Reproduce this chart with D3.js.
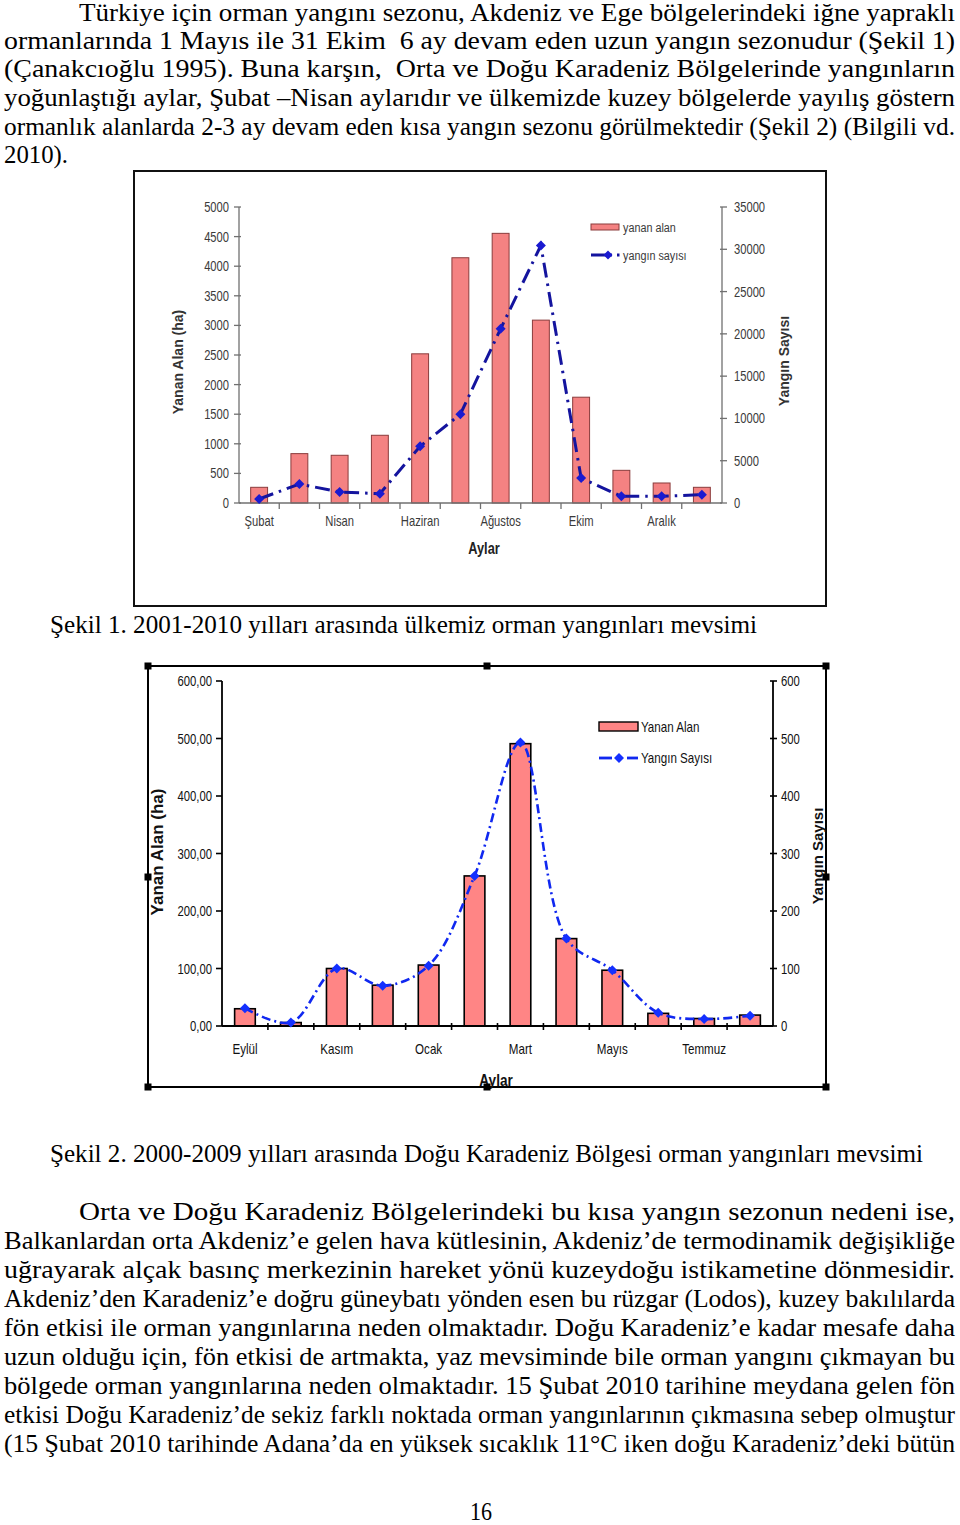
<!DOCTYPE html>
<html><head><meta charset="utf-8">
<script src="https://cdn.jsdelivr.net/npm/d3@7"></script>
<style>
html,body{margin:0;padding:0;background:#fff;}
svg{display:block;}
</style></head>
<body>
<svg id="page" width="960" height="1525"></svg>
<script>
// ---------- DATA ----------
const months1 = ["Şubat","Mart","Nisan","Mayıs","Haziran","Temmuz","Ağustos","Eylül","Ekim","Kasım","Aralık","Ocak"];
const area1 = [265, 834, 806, 1144, 2520, 4143, 4555, 3089, 1787, 552, 338, 265];
const count1 = [470, 2250, 1300, 1100, 6700, 10500, 20600, 30450, 2950, 790, 790, 990];
const leftTicks1 = [0,500,1000,1500,2000,2500,3000,3500,4000,4500,5000];
const rightTicks1 = [0,5000,10000,15000,20000,25000,30000,35000];
const labelMonths1 = ["Şubat","Nisan","Haziran","Ağustos","Ekim","Aralık"];

const months2 = ["Eylül","Ekim","Kasım","Aralık","Ocak","Şubat","Mart","Nisan","Mayıs","Haziran","Temmuz","Ağustos"];
const area2 = [30, 6, 100, 71, 106, 261, 491, 152, 97, 22, 13, 19];
const count2 = [31, 6, 100, 70, 105, 261, 493, 152, 97, 23, 12, 18];
const leftTicks2 = [0,100,200,300,400,500,600];
const leftTickLabels2 = ["0,00","100,00","200,00","300,00","400,00","500,00","600,00"];
const rightTicks2 = [0,100,200,300,400,500,600];
const labelMonths2 = ["Eylül","Kasım","Ocak","Mart","Mayıs","Temmuz"];

const para1 = [
 "Türkiye için orman yangını sezonu, Akdeniz ve Ege bölgelerindeki iğne yapraklı",
 "ormanlarında 1 Mayıs ile 31 Ekim  6 ay devam eden uzun yangın sezonudur (Şekil 1)",
 "(Çanakcıoğlu 1995). Buna karşın,  Orta ve Doğu Karadeniz Bölgelerinde yangınların",
 "yoğunlaştığı aylar, Şubat –Nisan aylarıdır ve ülkemizde kuzey bölgelerde yayılış göstern",
 "ormanlık alanlarda 2-3 ay devam eden kısa yangın sezonu görülmektedir (Şekil 2) (Bilgili vd.",
 "2010)."
];
const caption1 = "Şekil 1. 2001-2010 yılları arasında ülkemiz orman yangınları mevsimi";
const caption2 = "Şekil 2. 2000-2009 yılları arasında Doğu Karadeniz Bölgesi orman yangınları mevsimi";
const para2 = [
 "Orta ve Doğu Karadeniz Bölgelerindeki bu kısa yangın sezonun nedeni ise,",
 "Balkanlardan orta Akdeniz’e gelen hava kütlesinin, Akdeniz’de termodinamik değişikliğe",
 "uğrayarak alçak basınç merkezinin hareket yönü kuzeydoğu istikametine dönmesidir.",
 "Akdeniz’den Karadeniz’e doğru güneybatı yönden esen bu rüzgar (Lodos), kuzey bakılılarda",
 "fön etkisi ile orman yangınlarına neden olmaktadır. Doğu Karadeniz’e kadar mesafe daha",
 "uzun olduğu için, fön etkisi de artmakta, yaz mevsiminde bile orman yangını çıkmayan bu",
 "bölgede orman yangınlarına neden olmaktadır. 15 Şubat 2010 tarihine meydana gelen fön",
 "etkisi Doğu Karadeniz’de sekiz farklı noktada orman yangınlarının çıkmasına sebep olmuştur",
 "(15 Şubat 2010 tarihinde Adana’da en yüksek sıcaklık 11°C iken doğu Karadeniz’deki bütün"
];

// ---------- PAGE TEXT ----------
const svg = d3.select("#page");
const serif = "'Liberation Serif','Times New Roman',serif";
const sans = "'Liberation Sans',Arial,sans-serif";

function textLine(str, x, y, width){
  const t = svg.append("text").attr("x",x).attr("y",y)
    .attr("font-family",serif).attr("font-size",25).attr("fill","#000")
    .style("white-space","pre").text(str);
  if (width) t.attr("textLength",width).attr("lengthAdjust","spacingAndGlyphs");
  return t;
}
const p1Base = [21,49,77,106,135,163];
para1.forEach((s,i)=>{
  const x = i===0?79:4;
  const w = i===para1.length-1 ? 64 : 955-x;
  textLine(s,x,p1Base[i],w);
});
textLine(caption1,50,633,707);
textLine(caption2,50,1162,873);
const p2Base = [1220,1249,1278,1307,1336,1365,1394,1423,1452];
para2.forEach((s,i)=>{
  const x = i===0?79:4;
  textLine(s,x,p2Base[i],955-x);
});
svg.append("text").attr("x",481).attr("y",1520).attr("text-anchor","middle")
  .attr("font-family",serif).attr("font-size",25).attr("textLength",22).attr("lengthAdjust","spacingAndGlyphs").text("16");

// condensed sans text (narrow look)
function ntext(g, x, y, str, o){
  o = o||{};
  const t = g.append("text")
    .attr("transform",`translate(${x},${y}) scale(${o.sx||0.8},1)`)
    .attr("text-anchor",o.anchor||"start")
    .attr("font-family",sans).attr("font-size",o.size||14)
    .attr("font-weight",o.weight||"normal")
    .attr("fill",o.fill||"#111").text(str);
  return t;
}
function diamond(g, cx, cy, r, fill){
  g.append("path").attr("d",`M${cx},${cy-r}L${cx+r},${cy}L${cx},${cy+r}L${cx-r},${cy}Z`).attr("fill",fill);
}

// ---------- CHART 1 ----------
(function(){
  const g = svg.append("g");
  g.append("rect").attr("x",134).attr("y",171).attr("width",692).attr("height",435)
    .attr("fill","#fff").attr("stroke","#111").attr("stroke-width",2);
  const x0=239,x1=722,yb=503,yt=207;
  const axisCol="#707070", txtCol="#3a3a3a";
  const x = d3.scaleBand().domain(months1).range([x0,x1]).padding(0);
  const yL = d3.scaleLinear().domain([0,5000]).range([yb,yt]);
  const yR = d3.scaleLinear().domain([0,35000]).range([yb,yt]);
  const bw = x.bandwidth()*0.42;

  g.selectAll(".b1").data(months1).enter().append("rect")
    .attr("x",d=>x(d)+x.bandwidth()/2-bw/2)
    .attr("y",(d,i)=>yL(area1[i]))
    .attr("width",bw).attr("height",(d,i)=>yb-yL(area1[i]))
    .attr("fill","#f48282").attr("stroke","#8a3c3c").attr("stroke-width",1);

  g.append("line").attr("x1",x0).attr("x2",x0).attr("y1",yt).attr("y2",yb).attr("stroke",axisCol).attr("stroke-width",1.3);
  leftTicks1.forEach(v=>{
    g.append("line").attr("x1",x0-5).attr("x2",x0+2).attr("y1",yL(v)).attr("y2",yL(v)).attr("stroke",axisCol).attr("stroke-width",1.3);
    ntext(g, x0-10, yL(v)+5, v, {anchor:"end", fill:txtCol, size:14});
  });
  g.append("line").attr("x1",x1).attr("x2",x1).attr("y1",yt).attr("y2",yb).attr("stroke",axisCol).attr("stroke-width",1.3);
  rightTicks1.forEach(v=>{
    g.append("line").attr("x1",x1-2).attr("x2",x1+5).attr("y1",yR(v)).attr("y2",yR(v)).attr("stroke",axisCol).attr("stroke-width",1.3);
    ntext(g, x1+12, yR(v)+5, v, {fill:txtCol, size:14});
  });
  g.append("line").attr("x1",x0).attr("x2",x1).attr("y1",yb).attr("y2",yb).attr("stroke",axisCol).attr("stroke-width",1.3);
  months1.forEach((m,i)=>{
    const bx = x(m);
    if(i>0) g.append("line").attr("x1",bx).attr("x2",bx).attr("y1",yb).attr("y2",yb+6).attr("stroke",axisCol).attr("stroke-width",1.3);
  });
  labelMonths1.forEach(m=>{
    ntext(g, x(m)+x.bandwidth()/2, yb+23, m, {anchor:"middle", fill:txtCol, size:14});
  });

  const line = d3.line().x((d,i)=>x(months1[i])+x.bandwidth()/2).y(d=>yR(d));
  g.append("path").attr("d",line(count1)).attr("fill","none").attr("stroke","#14149e")
    .attr("stroke-width",3).attr("stroke-dasharray","15,6,2.5,6");
  count1.forEach((v,i)=>diamond(g, x(months1[i])+x.bandwidth()/2, yR(v), 5, "#1a1ad0"));

  g.append("text").attr("transform","translate(183,362) rotate(-90)").attr("text-anchor","middle")
    .attr("font-family",sans).attr("font-weight","bold").attr("font-size",14).attr("fill","#333").text("Yanan Alan (ha)");
  g.append("text").attr("transform","translate(789,361) rotate(-90)").attr("text-anchor","middle")
    .attr("font-family",sans).attr("font-weight","bold").attr("font-size",14).attr("fill","#333").text("Yangın Sayısı");
  ntext(g, 484, 554, "Aylar", {anchor:"middle", weight:"bold", size:16, fill:"#222"});

  g.append("rect").attr("x",591).attr("y",224).attr("width",28).attr("height",6)
    .attr("fill","#f48282").attr("stroke","#8a3c3c").attr("stroke-width",1);
  ntext(g, 623, 232, "yanan alan", {fill:txtCol, size:13.5});
  g.append("line").attr("x1",591).attr("x2",620).attr("y1",255).attr("y2",255).attr("stroke","#14149e")
    .attr("stroke-width",3).attr("stroke-dasharray","21,5,2.5,6");
  diamond(g,608,255,4.5,"#1a1ad0");
  ntext(g, 623, 260, "yangın sayısı", {fill:txtCol, size:13.5});
})();

// ---------- CHART 2 ----------
(function(){
  const g = svg.append("g");
  g.append("rect").attr("x",148).attr("y",666).attr("width",678).attr("height",421)
    .attr("fill","#fff").attr("stroke","#000").attr("stroke-width",2);
  const x0=222,x1=773,yb=1026,yt=681;
  const x = d3.scaleBand().domain(months2).range([x0,x1]).padding(0);
  const yL = d3.scaleLinear().domain([0,600]).range([yb,yt]);
  const yR = d3.scaleLinear().domain([0,600]).range([yb,yt]);
  const bw = x.bandwidth()*0.45;

  g.selectAll(".b2").data(months2).enter().append("rect")
    .attr("x",d=>x(d)+x.bandwidth()/2-bw/2)
    .attr("y",(d,i)=>yL(area2[i]))
    .attr("width",bw).attr("height",(d,i)=>yb-yL(area2[i]))
    .attr("fill","#ff8585").attr("stroke","#000").attr("stroke-width",1.6);

  g.append("line").attr("x1",x0).attr("x2",x0).attr("y1",yt).attr("y2",yb).attr("stroke","#000").attr("stroke-width",1.8);
  leftTicks2.forEach((v,i)=>{
    g.append("line").attr("x1",x0-6).attr("x2",x0).attr("y1",yL(v)).attr("y2",yL(v)).attr("stroke","#000").attr("stroke-width",1.6);
    ntext(g, x0-10, yL(v)+5, leftTickLabels2[i], {anchor:"end", size:14.5, sx:0.78});
  });
  g.append("line").attr("x1",x1).attr("x2",x1).attr("y1",yt).attr("y2",yb).attr("stroke","#000").attr("stroke-width",1.8);
  rightTicks2.forEach(v=>{
    g.append("line").attr("x1",x1-3).attr("x2",x1+4).attr("y1",yR(v)).attr("y2",yR(v)).attr("stroke","#000").attr("stroke-width",1.6);
    ntext(g, x1+8, yR(v)+5, v, {size:14.5, sx:0.78});
  });
  g.append("line").attr("x1",x0).attr("x2",x1).attr("y1",yb).attr("y2",yb).attr("stroke","#000").attr("stroke-width",1.8);
  months2.forEach((m,i)=>{
    if(i>0){const bx=x(m);
      g.append("line").attr("x1",bx).attr("x2",bx).attr("y1",yb-3).attr("y2",yb+4).attr("stroke","#000").attr("stroke-width",1.6);}
  });
  labelMonths2.forEach(m=>{
    ntext(g, x(m)+x.bandwidth()/2, yb+28, m, {anchor:"middle", size:14.5, sx:0.8});
  });

  const line = d3.line().x((d,i)=>x(months2[i])+x.bandwidth()/2).y(d=>yR(d)).curve(d3.curveCatmullRom.alpha(0.5));
  g.append("path").attr("d",line(count2)).attr("fill","none").attr("stroke","#1028f0")
    .attr("stroke-width",2.6).attr("stroke-dasharray","9,4,2,4");
  count2.forEach((v,i)=>diamond(g, x(months2[i])+x.bandwidth()/2, yR(v), 5, "#1430ff"));

  g.append("text").attr("transform","translate(163,852) rotate(-90)").attr("text-anchor","middle")
    .attr("font-family",sans).attr("font-weight","bold").attr("font-size",17).attr("fill","#111").text("Yanan Alan (ha)");
  g.append("text").attr("transform","translate(823,856) rotate(-90)").attr("text-anchor","middle")
    .attr("font-family",sans).attr("font-weight","bold").attr("font-size",15).attr("fill","#111").text("Yangın Sayısı");
  ntext(g, 496, 1086, "Aylar", {anchor:"middle", weight:"bold", size:17, sx:0.8});

  g.append("rect").attr("x",599).attr("y",722).attr("width",39).attr("height",9)
    .attr("fill","#ff8585").attr("stroke","#000").attr("stroke-width",1.4);
  ntext(g, 641, 732, "Yanan Alan", {size:14.5});
  g.append("line").attr("x1",599).attr("x2",612).attr("y1",758).attr("y2",758).attr("stroke","#1028f0").attr("stroke-width",2.8);
  g.append("line").attr("x1",627).attr("x2",638).attr("y1",758).attr("y2",758).attr("stroke","#1028f0").attr("stroke-width",2.8);
  diamond(g,619,758,5,"#1430ff");
  ntext(g, 641, 763, "Yangın Sayısı", {size:14.5});

  const hx=[148,487,826], hy=[666,877,1087];
  hx.forEach((px,i)=>hy.forEach((py,j)=>{
    if(i===1&&j===1) return;
    g.append("rect").attr("x",px-3.5).attr("y",py-3.5).attr("width",7).attr("height",7).attr("fill","#000");
  }));
})();
</script>
</body></html>
